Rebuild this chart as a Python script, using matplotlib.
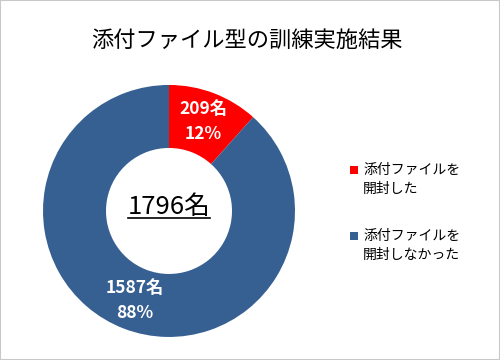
import numpy as np
import matplotlib.pyplot as plt
from matplotlib.patches import Rectangle
from matplotlib.lines import Line2D

plt.rcParams['font.family'] = ['Noto Sans CJK JP', 'DejaVu Sans']

title = '添付ファイル型の訓練実施結果'
labels = ['添付ファイルを\n開封した', '添付ファイルを\n開封しなかった']
counts = [209, 1587]
colors = ['#FF0000', '#376092']

total = sum(counts)

fig = plt.figure(figsize=(5, 3.6), dpi=100)
fig.patches.append(Rectangle((0, 0), 1, 1, transform=fig.transFigure,
                             fill=False, edgecolor='#C8C8C8', linewidth=1.5))

ax = fig.add_axes([0.086, 0.064, 0.504, 0.70])
wedges, _ = ax.pie(counts, colors=colors, startangle=90, counterclock=False,
                   radius=1.0, wedgeprops=dict(width=0.5, edgecolor='none'))
ax.set_xlim(-1, 1)
ax.set_ylim(-1, 1)

# slice labels: count + percent
for w, c in zip(wedges, counts):
    mid = np.deg2rad((w.theta1 + w.theta2) / 2)
    pct = round(c / total * 100)
    ax.text(0.76 * np.cos(mid), 0.76 * np.sin(mid), f'{c}名\n{pct}%',
            ha='center', va='center', color='white', fontsize=12.5,
            fontweight='bold', linespacing=1.55)

center_txt = ax.text(0, 0.03, f'{total}名', ha='center', va='center',
                     fontsize=18.5, color='black')

fig.text(0.494, 0.888, title, ha='center', va='center', fontsize=16)

# legend drawn by hand so the marker sits on the first text line
for i, (lab, c) in enumerate(zip(labels, colors)):
    y_top = 170 + i * 66  # pixel row of first line center
    fig.patches.append(Rectangle((350 / 500, 1 - (y_top + 4) / 360), 8 / 500, 8 / 360,
                                 transform=fig.transFigure, facecolor=c,
                                 edgecolor='none'))
    fig.text(363 / 500, 1 - (y_top + 9.5) / 360, lab, ha='left', va='center',
             fontsize=10, linespacing=1.45)

# underline under the center total
fig.canvas.draw()
bb = center_txt.get_window_extent()
y_line = bb.y0 + 2
fig.add_artist(Line2D([bb.x0, bb.x1], [y_line, y_line], transform=None,
                      color='black', linewidth=1.2))

fig.savefig('out.png', dpi=100)
